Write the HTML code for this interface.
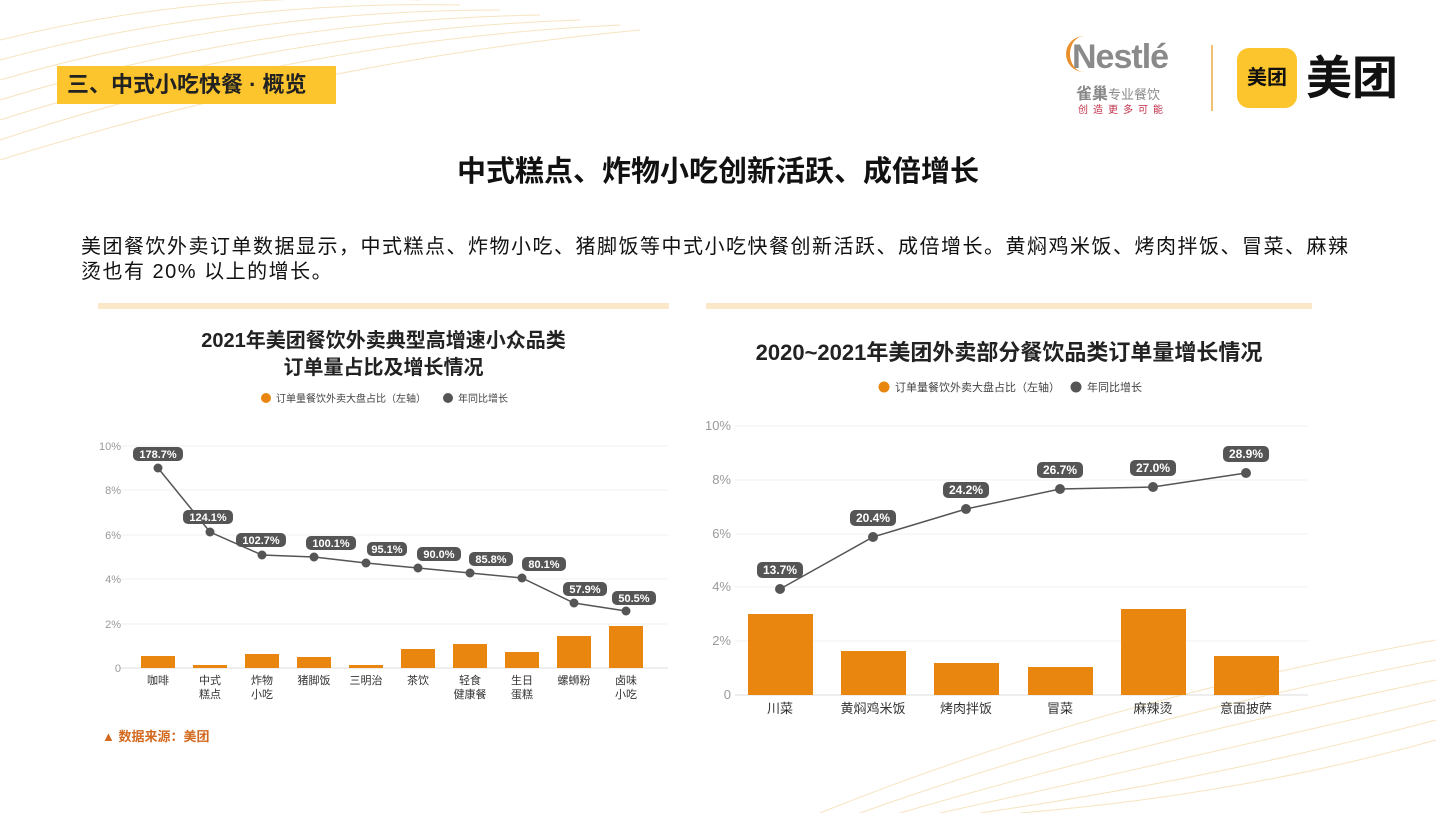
<!DOCTYPE html>
<html><head><meta charset="utf-8"><style>
body{margin:0;width:1436px;height:813px;background:#fff;overflow:hidden;font-family:"Liberation Sans","Noto Sans CJK SC",sans-serif;position:relative}
.abs{position:absolute}
</style></head><body>
<svg class="abs" style="left:0;top:0" width="1436" height="813">
<g fill="none" stroke="#f3d9a6" stroke-width="1" opacity="0.7">
<path d="M0 40 Q200 -10 420 0"/><path d="M0 60 Q220 0 460 5"/><path d="M0 80 Q240 10 500 10"/><path d="M0 100 Q260 20 540 15"/><path d="M0 120 Q280 30 580 20"/><path d="M0 140 Q300 40 620 25"/><path d="M0 160 Q320 60 640 30"/>
<path d="M820 813 Q1100 700 1436 640"/><path d="M860 813 Q1120 720 1436 660"/><path d="M900 813 Q1150 740 1436 680"/><path d="M940 813 Q1180 760 1436 700"/><path d="M980 813 Q1210 780 1436 720"/><path d="M1020 813 Q1240 795 1436 740"/>
</g>
<rect x="98" y="303" width="571" height="6" fill="#fbe8c8"/>
<rect x="706" y="303" width="606" height="6" fill="#fbe8c8"/>
</svg>
<div class="abs" style="left:57px;top:66px;width:279px;height:38px;background:#fcc52d;font-size:22px;font-weight:bold;line-height:38px;padding-left:10px;box-sizing:border-box;color:#222">三、中式小吃快餐 · 概览</div>
<div class="abs" style="left:1072px;top:38px;font-size:34px;font-weight:bold;color:#8a8a8a;letter-spacing:-1px">Nestlé</div>
<div class="abs" style="left:1066px;top:36px;width:22px;height:36px;border-left:4px solid #e8902c;border-radius:20px 0 0 20px"></div>
<div class="abs" style="left:1076px;top:80px;font-size:16px;color:#888;font-weight:bold">雀巢<span style="font-size:13px;font-weight:normal">专业餐饮</span></div>
<div class="abs" style="left:1078px;top:101px;font-size:10px;color:#c0304a;letter-spacing:5px">创造更多可能</div>
<div class="abs" style="left:1211px;top:45px;width:2px;height:66px;background:#f0c070"></div>
<div class="abs" style="left:1237px;top:48px;width:60px;height:60px;background:#fcc52d;border-radius:12px;font-size:20px;font-weight:bold;text-align:center;line-height:60px;color:#111">美团</div>
<div class="abs" style="left:1306px;top:50px;font-size:46px;font-weight:bold;color:#111;line-height:56px">美团</div>
<div class="abs" style="left:0;top:148px;width:1436px;text-align:center;font-size:29px;font-weight:bold;color:#111">中式糕点、炸物小吃创新活跃、成倍增长</div>
<div class="abs" style="left:81px;top:235px;width:1275px;font-size:20px;letter-spacing:1.5px;color:#111;line-height:25px">美团餐饮外卖订单数据显示，中式糕点、炸物小吃、猪脚饭等中式小吃快餐创新活跃、成倍增长。黄焖鸡米饭、烤肉拌饭、冒菜、麻辣<br>烫也有 20% 以上的增长。</div>
<div class="abs" style="left:98px;top:328px;width:571px;text-align:center;font-size:20px;font-weight:bold;color:#222;line-height:27px">2021年美团餐饮外卖典型高增速小众品类<br>订单量占比及增长情况</div>
<div class="abs" style="left:706px;top:335px;width:606px;text-align:center;font-size:22px;font-weight:bold;color:#222">2020~2021年美团外卖部分餐饮品类订单量增长情况</div>
<div class="abs" style="left:102px;top:726px;font-size:13px;font-weight:bold;color:#d2691e">▲ 数据来源：美团</div>
<svg class="abs" style="left:0;top:0" width="1436" height="813" font-family="Liberation Sans,Noto Sans CJK SC,sans-serif">
<circle cx="266" cy="398" r="5" fill="#e8860f"/><text x="276" y="402" font-size="10" fill="#444">订单量餐饮外卖大盘占比（左轴）</text>
<circle cx="448" cy="398" r="5" fill="#555"/><text x="458" y="402" font-size="10" fill="#444">年同比增长</text>
<g stroke="#f2f2f2"><line x1="120" y1="446" x2="668" y2="446"/><line x1="120" y1="490" x2="668" y2="490"/><line x1="120" y1="535" x2="668" y2="535"/><line x1="120" y1="579" x2="668" y2="579"/><line x1="120" y1="624" x2="668" y2="624"/></g>
<line x1="120" y1="668" x2="668" y2="668" stroke="#ddd"/>
<g font-size="11" fill="#999" text-anchor="end"><text x="121" y="450">10%</text><text x="121" y="494">8%</text><text x="121" y="539">6%</text><text x="121" y="583">4%</text><text x="121" y="628">2%</text><text x="121" y="672">0</text></g>
<g fill="#e8860f">
<rect x="141" y="656" width="34" height="12"/><rect x="193" y="665" width="34" height="3"/><rect x="245" y="654" width="34" height="14"/><rect x="297" y="657" width="34" height="11"/><rect x="349" y="665" width="34" height="3"/><rect x="401" y="649" width="34" height="19"/><rect x="453" y="644" width="34" height="24"/><rect x="505" y="652" width="34" height="16"/><rect x="557" y="636" width="34" height="32"/><rect x="609" y="626" width="34" height="42"/>
</g>
<polyline points="158,468 210,532 262,555 314,557 366,563 418,568 470,573 522,578 574,603 626,611" fill="none" stroke="#555" stroke-width="1.5"/>
<g fill="#555"><circle cx="158" cy="468" r="4.5"/><circle cx="210" cy="532" r="4.5"/><circle cx="262" cy="555" r="4.5"/><circle cx="314" cy="557" r="4.5"/><circle cx="366" cy="563" r="4.5"/><circle cx="418" cy="568" r="4.5"/><circle cx="470" cy="573" r="4.5"/><circle cx="522" cy="578" r="4.5"/><circle cx="574" cy="603" r="4.5"/><circle cx="626" cy="611" r="4.5"/></g>
<g fill="#555">
<rect x="133" y="447" width="50" height="14" rx="5"/><rect x="183" y="510" width="50" height="14" rx="5"/><rect x="236" y="533" width="50" height="14" rx="5"/><rect x="306" y="536" width="50" height="14" rx="5"/><rect x="367" y="542" width="40" height="14" rx="5"/><rect x="417" y="547" width="44" height="14" rx="5"/><rect x="469" y="552" width="44" height="14" rx="5"/><rect x="522" y="557" width="44" height="14" rx="5"/><rect x="563" y="582" width="44" height="14" rx="5"/><rect x="612" y="591" width="44" height="14" rx="5"/>
</g>
<g font-size="11" font-weight="bold" fill="#fff" text-anchor="middle">
<text x="158" y="458">178.7%</text><text x="208" y="521">124.1%</text><text x="261" y="544">102.7%</text><text x="331" y="547">100.1%</text><text x="387" y="553">95.1%</text><text x="439" y="558">90.0%</text><text x="491" y="563">85.8%</text><text x="544" y="568">80.1%</text><text x="585" y="593">57.9%</text><text x="634" y="602">50.5%</text>
</g>
<g font-size="11" fill="#333" text-anchor="middle">
<text x="158" y="684">咖啡</text><text x="210" y="684">中式</text><text x="210" y="698">糕点</text><text x="262" y="684">炸物</text><text x="262" y="698">小吃</text><text x="314" y="684">猪脚饭</text><text x="366" y="684">三明治</text><text x="418" y="684">茶饮</text><text x="470" y="684">轻食</text><text x="470" y="698">健康餐</text><text x="522" y="684">生日</text><text x="522" y="698">蛋糕</text><text x="574" y="684">螺蛳粉</text><text x="626" y="684">卤味</text><text x="626" y="698">小吃</text>
</g>
<circle cx="884" cy="387" r="5.5" fill="#e8860f"/><text x="895" y="391" font-size="11" fill="#444">订单量餐饮外卖大盘占比（左轴）</text>
<circle cx="1076" cy="387" r="5.5" fill="#555"/><text x="1087" y="391" font-size="11" fill="#444">年同比增长</text>
<g stroke="#f2f2f2"><line x1="735" y1="426" x2="1308" y2="426"/><line x1="735" y1="480" x2="1308" y2="480"/><line x1="735" y1="534" x2="1308" y2="534"/><line x1="735" y1="587" x2="1308" y2="587"/><line x1="735" y1="641" x2="1308" y2="641"/></g>
<line x1="735" y1="695" x2="1308" y2="695" stroke="#ddd"/>
<g font-size="13" fill="#999" text-anchor="end"><text x="731" y="430">10%</text><text x="731" y="484">8%</text><text x="731" y="538">6%</text><text x="731" y="591">4%</text><text x="731" y="645">2%</text><text x="731" y="699">0</text></g>
<g fill="#e8860f">
<rect x="748" y="614" width="65" height="81"/><rect x="841" y="651" width="65" height="44"/><rect x="934" y="663" width="65" height="32"/><rect x="1028" y="667" width="65" height="28"/><rect x="1121" y="609" width="65" height="86"/><rect x="1214" y="656" width="65" height="39"/>
</g>
<polyline points="780,589 873,537 966,509 1060,489 1153,487 1246,473" fill="none" stroke="#555" stroke-width="1.5"/>
<g fill="#555"><circle cx="780" cy="589" r="5"/><circle cx="873" cy="537" r="5"/><circle cx="966" cy="509" r="5"/><circle cx="1060" cy="489" r="5"/><circle cx="1153" cy="487" r="5"/><circle cx="1246" cy="473" r="5"/></g>
<g fill="#555"><rect x="757" y="562" width="46" height="16" rx="5"/><rect x="850" y="510" width="46" height="16" rx="5"/><rect x="943" y="482" width="46" height="16" rx="5"/><rect x="1037" y="462" width="46" height="16" rx="5"/><rect x="1130" y="460" width="46" height="16" rx="5"/><rect x="1223" y="446" width="46" height="16" rx="5"/></g>
<g font-size="12" font-weight="bold" fill="#fff" text-anchor="middle"><text x="780" y="574">13.7%</text><text x="873" y="522">20.4%</text><text x="966" y="494">24.2%</text><text x="1060" y="474">26.7%</text><text x="1153" y="472">27.0%</text><text x="1246" y="458">28.9%</text></g>
<g font-size="13" fill="#333" text-anchor="middle"><text x="780" y="713">川菜</text><text x="873" y="713">黄焖鸡米饭</text><text x="966" y="713">烤肉拌饭</text><text x="1060" y="713">冒菜</text><text x="1153" y="713">麻辣烫</text><text x="1246" y="713">意面披萨</text></g>
</svg>
</body></html>
